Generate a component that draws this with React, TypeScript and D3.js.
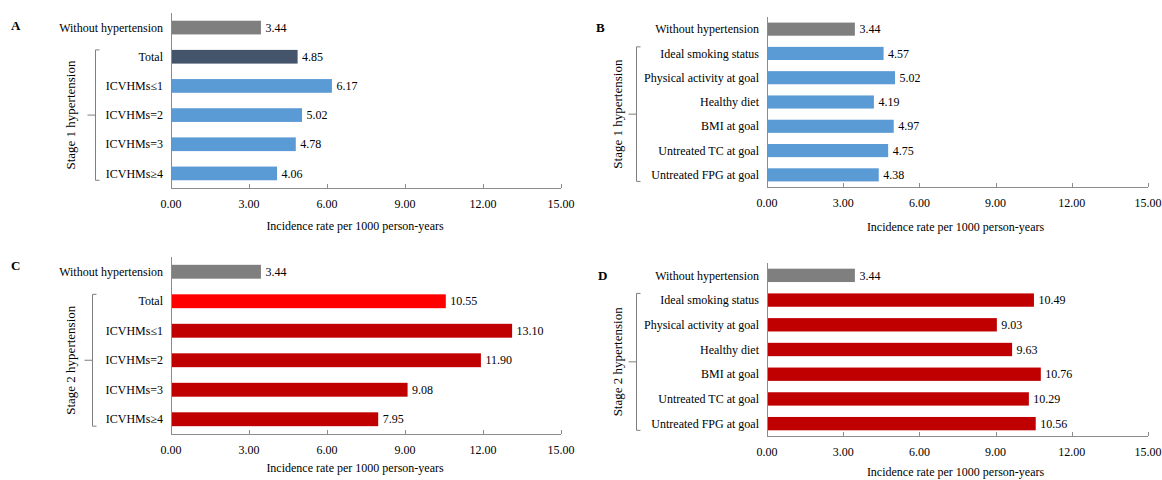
import React, { useEffect, useRef } from 'react';
import * as d3 from 'd3';

// categories
const stageGroups = ['Without hypertension', 'Total', 'ICVHMs≤1', 'ICVHMs=2', 'ICVHMs=3', 'ICVHMs≥4'];
const metrics = [
  'Without hypertension',
  'Ideal smoking status',
  'Physical activity at goal',
  'Healthy diet',
  'BMI at goal',
  'Untreated TC at goal',
  'Untreated FPG at goal',
];

// incidence rate per 1000 person-years
const stage1ByGroup = [3.44, 4.85, 6.17, 5.02, 4.78, 4.06];
const stage1ByMetric = [3.44, 4.57, 5.02, 4.19, 4.97, 4.75, 4.38];
const stage2ByGroup = [3.44, 10.55, 13.1, 11.9, 9.08, 7.95];
const stage2ByMetric = [3.44, 10.49, 9.03, 9.63, 10.76, 10.29, 10.56];

const xTicks = [0, 3, 6, 9, 12, 15];

const FONT = '"Liberation Serif", "Times New Roman", serif';
const GRAY = '#7f7f7f';
const AXIS = '#8c8c8c';

const drawPanel = (svg, p) => {
  const g = svg.append('g');
  const x = d3.scaleLinear().domain([0, 15]).range([p.x0, p.x1]);
  const y = d3
    .scaleBand()
    .domain(p.cats)
    .range([p.yTop, p.yBot])
    .paddingInner(p.pad)
    .paddingOuter(p.pad / 2);

  // bars
  g.selectAll('rect.bar')
    .data(p.vals)
    .enter()
    .append('rect')
    .attr('x', x(0) + 0.5)
    .attr('y', (d, i) => y(p.cats[i]))
    .attr('width', (d) => x(d) - x(0))
    .attr('height', y.bandwidth())
    .style('fill', (d, i) => (i === 0 ? GRAY : i === 1 && p.totalColor ? p.totalColor : p.color));

  // value labels
  g.selectAll('text.val')
    .data(p.vals)
    .enter()
    .append('text')
    .attr('x', (d) => x(d) + 5)
    .attr('y', (d, i) => y(p.cats[i]) + y.bandwidth() / 2)
    .attr('dy', '0.35em')
    .style('font-family', FONT)
    .style('font-size', '12px')
    .text((d) => d.toFixed(2));

  // category labels
  g.selectAll('text.cat')
    .data(p.cats)
    .enter()
    .append('text')
    .attr('x', p.x0 - 8)
    .attr('y', (d) => y(d) + y.bandwidth() / 2)
    .attr('dy', '0.35em')
    .attr('text-anchor', 'end')
    .style('font-family', FONT)
    .style('font-size', '12px')
    .text((d) => d);

  // axes
  g.append('line')
    .attr('x1', p.x0 + 0.5)
    .attr('x2', p.x0 + 0.5)
    .attr('y1', p.yTop)
    .attr('y2', p.yBot)
    .attr('stroke', AXIS);
  g.append('line')
    .attr('x1', p.x0)
    .attr('x2', p.x1)
    .attr('y1', p.yBot + 0.5)
    .attr('y2', p.yBot + 0.5)
    .attr('stroke', AXIS);
  g.selectAll('line.tick')
    .data(xTicks)
    .enter()
    .append('line')
    .attr('x1', (d) => Math.round(x(d)) + 0.5)
    .attr('x2', (d) => Math.round(x(d)) + 0.5)
    .attr('y1', p.yBot - 4)
    .attr('y2', p.yBot)
    .attr('stroke', AXIS);
  g.selectAll('text.tick')
    .data(xTicks)
    .enter()
    .append('text')
    .attr('x', (d) => x(d))
    .attr('y', p.yBot + 16)
    .attr('dy', '0.35em')
    .attr('text-anchor', 'middle')
    .style('font-family', FONT)
    .style('font-size', '12px')
    .text((d) => d.toFixed(2));

  g.append('text')
    .attr('x', (p.x0 + p.x1) / 2 + p.xLabelDx)
    .attr('y', p.yBot + p.xLabelDy)
    .attr('dy', '0.35em')
    .attr('text-anchor', 'middle')
    .style('font-family', FONT)
    .style('font-size', '12px')
    .text('Incidence rate per 1000 person-years');

  // panel letter
  g.append('text')
    .attr('x', p.letterX)
    .attr('y', p.letterY)
    .attr('dy', '0.35em')
    .style('font-family', FONT)
    .style('font-size', '13px')
    .style('font-weight', 'bold')
    .text(p.letter);

  // bracket around the stage rows
  const top = y(p.cats[1]);
  const bot = y(p.cats[p.cats.length - 1]) + y.bandwidth();
  const bx = p.bracketX + 0.5;
  g.append('path')
    .attr('d', `M${bx + 4},${top} H${bx} V${bot} H${bx + 4} M${bx},${(top + bot) / 2} H${bx - 8}`)
    .attr('fill', 'none')
    .attr('stroke', GRAY);

  g.append('text')
    .attr('transform', `translate(${p.stageX},${(top + bot) / 2})rotate(-90)`)
    .attr('dy', '0.35em')
    .attr('text-anchor', 'middle')
    .style('font-family', FONT)
    .style('font-size', '13px')
    .text(p.stage);
};

const App = () => {
  const chartContainer = useRef(null);

  useEffect(() => {
    if (!chartContainer.current) return;
    const root = d3.select(chartContainer.current);
    root.selectAll('*').remove();
    const svg = root
      .append('svg')
      .attr('width', 1162)
      .attr('height', 480)
      .style('position', 'absolute')
      .style('left', 0)
      .style('top', 0)
      .style('background', '#fff');

    drawPanel(svg, {
      letter: 'A', letterX: 11, letterY: 25,
      cats: stageGroups, vals: stage1ByGroup, color: '#5b9bd5', totalColor: '#44546a',
      x0: 171, x1: 561, yTop: 13, yBot: 188, pad: 0.53,
      xLabelDx: -11, xLabelDy: 38,
      bracketX: 95, stageX: 70, stage: 'Stage 1 hypertension',
    });
    drawPanel(svg, {
      letter: 'B', letterX: 596, letterY: 27,
      cats: metrics, vals: stage1ByMetric, color: '#5b9bd5',
      x0: 767, x1: 1148, yTop: 17, yBot: 187, pad: 0.46,
      xLabelDx: -2, xLabelDy: 40,
      bracketX: 636, stageX: 617, stage: 'Stage 1 hypertension',
    });
    drawPanel(svg, {
      letter: 'C', letterX: 11, letterY: 265,
      cats: stageGroups, vals: stage2ByGroup, color: '#c00000', totalColor: '#ff0000',
      x0: 171, x1: 561, yTop: 257, yBot: 434, pad: 0.53,
      xLabelDx: -11, xLabelDy: 34,
      bracketX: 92, stageX: 70, stage: 'Stage 2 hypertension',
    });
    drawPanel(svg, {
      letter: 'D', letterX: 598, letterY: 275,
      cats: metrics, vals: stage2ByMetric, color: '#c00000',
      x0: 767, x1: 1148, yTop: 263, yBot: 436, pad: 0.46,
      xLabelDx: -2, xLabelDy: 36,
      bracketX: 636, stageX: 617, stage: 'Stage 2 hypertension',
    });
  }, []);

  return <div id="chart" ref={chartContainer} />;
};

export default App;
